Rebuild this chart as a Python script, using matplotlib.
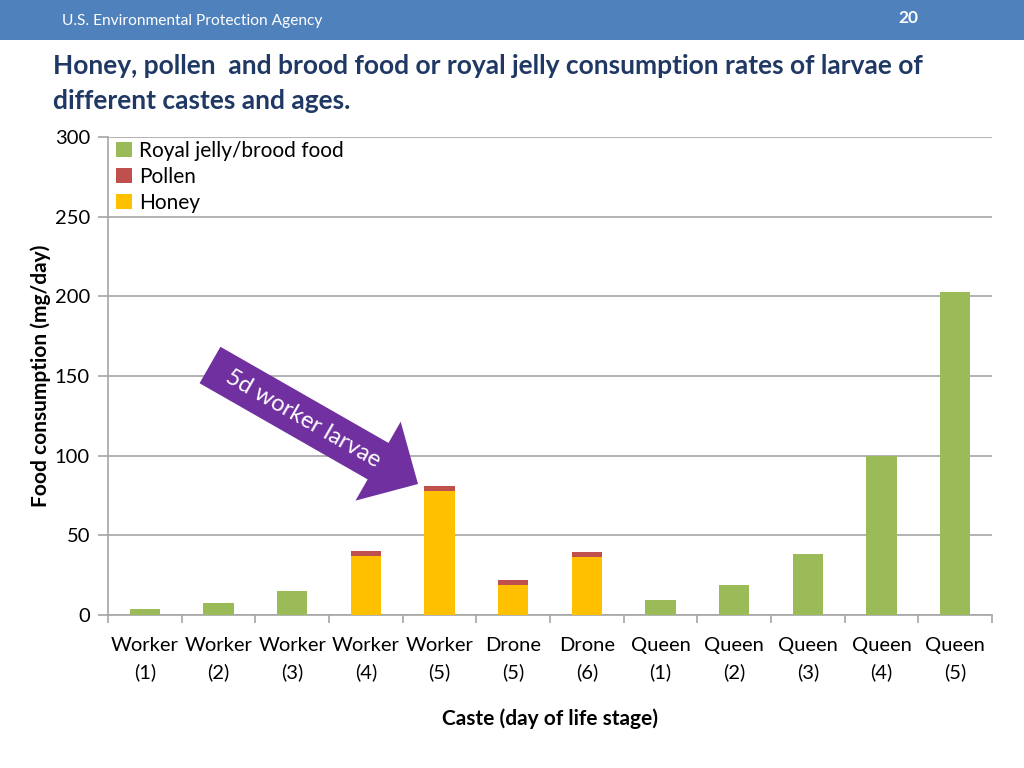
import numpy as np
import matplotlib
matplotlib.use("Agg")
import matplotlib.pyplot as plt
from matplotlib.patches import FancyArrow, Rectangle

plt.rcParams['font.family'] = ['Lato', 'DejaVu Sans']

# data (mg/day)
castes = ["Worker\n(1)", "Worker\n(2)", "Worker\n(3)", "Worker\n(4)", "Worker\n(5)",
          "Drone\n(5)", "Drone\n(6)", "Queen\n(1)", "Queen\n(2)", "Queen\n(3)",
          "Queen\n(4)", "Queen\n(5)"]
honey = [0, 0, 0, 37, 78, 19, 36.6, 0, 0, 0, 0, 0]
pollen = [0, 0, 0, 3, 3, 2.7, 2.8, 0, 0, 0, 0, 0]
royal_jelly = [3.7, 7.5, 15, 0, 0, 0, 0, 9.4, 18.8, 38, 100, 203]

green = "#9BBB59"
red = "#C0504D"
gold = "#FFC000"
gridc = "#A6A6A6"

fig = plt.figure(figsize=(10.24, 7.68), dpi=100)

# header band
fig.patches.append(Rectangle((0, 1 - 40 / 768), 1, 40 / 768, transform=fig.transFigure,
                             facecolor="#4F81BD", edgecolor="none", zorder=0))
fig.text(62 / 1024, 1 - 21 / 768, "U.S. Environmental Protection Agency", color="white",
         fontsize=11.2, va="center", ha="left")
fig.text(908 / 1024, 1 - 18 / 768, "20", color="white", fontsize=12.5, fontweight="bold",
         va="center", ha="center")

# title
fig.text(53 / 1024, 1 - 66 / 768,
         "Honey, pollen  and brood food or royal jelly consumption rates of larvae of",
         color="#1F3864", fontsize=19, fontweight="bold", va="center", ha="left")
fig.text(53 / 1024, 1 - 101 / 768, "different castes and ages.",
         color="#1F3864", fontsize=19, fontweight="bold", va="center", ha="left")

ax = fig.add_axes([108 / 1024, 153 / 768, (992 - 108) / 1024, (615 - 137) / 768])
x = np.arange(len(castes))
w = 0.41
honey = np.array(honey)
pollen = np.array(pollen)
royal_jelly = np.array(royal_jelly)

b_h = ax.bar(x, honey, w, color=gold, zorder=3, label="Honey")
b_p = ax.bar(x, pollen, w, bottom=honey, color=red, zorder=3, label="Pollen")
b_r = ax.bar(x, royal_jelly, w, bottom=honey + pollen, color=green, zorder=3,
             label="Royal jelly/brood food")

ax.set_ylim(0, 300)
ax.set_xlim(-0.5, len(castes) - 0.5)
ax.set_yticks(np.arange(0, 301, 50))
ax.yaxis.grid(True, color=gridc, linewidth=1.2, zorder=0)
ax.set_xticks(x)
ax.set_xticklabels(castes, fontsize=14.5, linespacing=1.6)
ax.set_xticks(np.arange(-0.5, len(castes), 1), minor=True)
ax.tick_params(axis="x", which="major", length=0, pad=16)
ax.tick_params(axis="x", which="minor", length=6, color=gridc, width=1.2)
ax.tick_params(axis="y", length=7, color=gridc, width=1.2, labelsize=14.5, pad=6)
for s in ["top", "right"]:
    ax.spines[s].set_visible(False)
for s in ["left", "bottom"]:
    ax.spines[s].set_color(gridc)
    ax.spines[s].set_linewidth(1.2)

ax.set_ylabel("Food consumption (mg/day)", fontsize=15, fontweight="bold", labelpad=3)
ax.set_xlabel("Caste (day of life stage)", fontsize=15, fontweight="bold", labelpad=20)

ax.legend(handles=[b_r, b_p, b_h], loc="upper left", frameon=False, fontsize=15,
          handlelength=0.75, handleheight=0.75, handletextpad=0.35, labelspacing=0.3,
          borderaxespad=0.0, bbox_to_anchor=(0.0, 1.01))

# purple call-out arrow (inches from bottom-left of the figure)
arrow = FancyArrow(2.10, 4.03, 2.08, -1.19, width=0.42, head_width=0.91, head_length=0.46,
                   length_includes_head=True, facecolor="#7030A0", edgecolor="none",
                   transform=fig.dpi_scale_trans, zorder=5)
fig.patches.append(arrow)
fig.text(3.03, 3.49, "5d worker larvae", transform=fig.dpi_scale_trans, rotation=-29.8,
         rotation_mode="anchor", ha="center", va="center", color="white", fontsize=17,
         zorder=6)

fig.savefig("out.png", dpi=100)
